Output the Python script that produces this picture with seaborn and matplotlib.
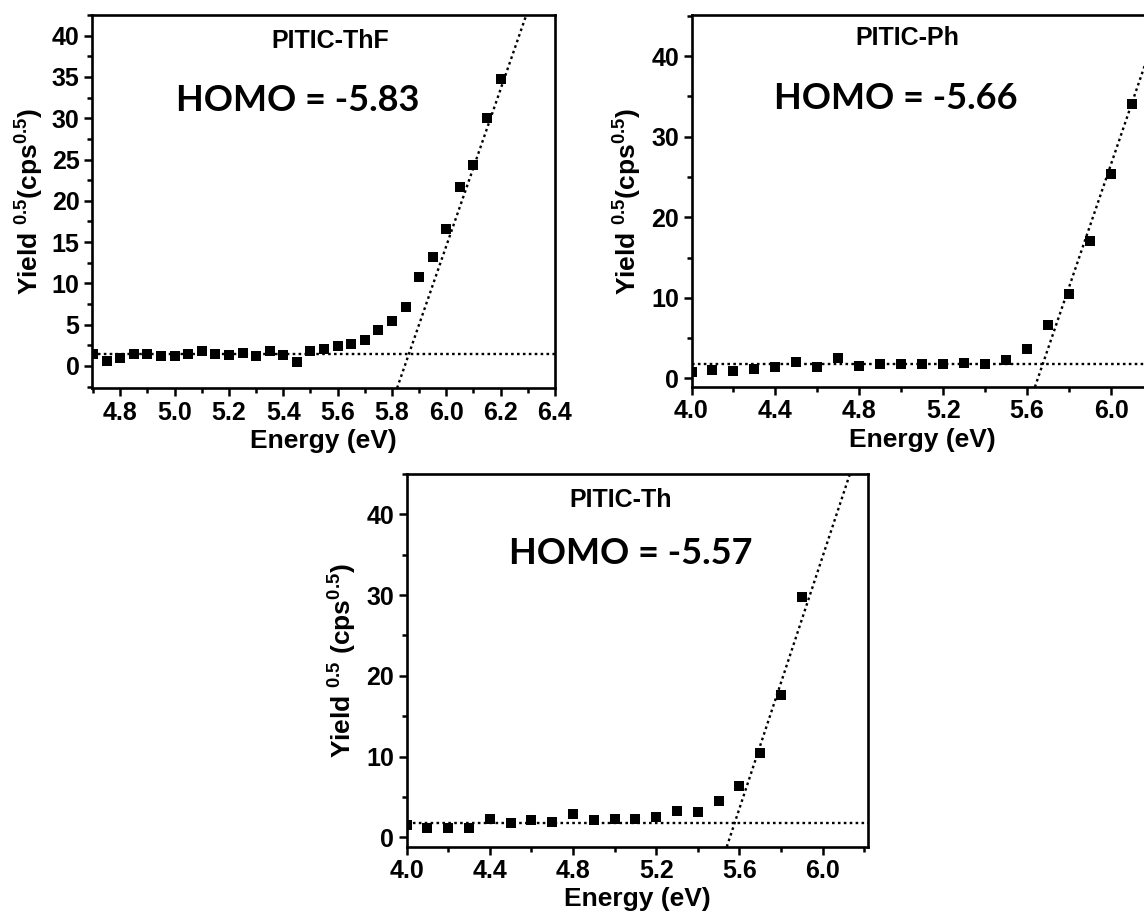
import numpy as np
import pandas as pd
import matplotlib
matplotlib.use("Agg")
import matplotlib.pyplot as plt
from matplotlib.ticker import MultipleLocator
import seaborn as sns

# ---------------- data ----------------
thf_energy = [4.70, 4.75, 4.80, 4.85, 4.90, 4.95, 5.00, 5.05, 5.10, 5.15, 5.20, 5.25,
              5.30, 5.35, 5.40, 5.45, 5.50, 5.55, 5.60, 5.65, 5.70, 5.75, 5.80, 5.85,
              5.90, 5.95, 6.00, 6.05, 6.10, 6.15, 6.20]
thf_yield = [1.5, 0.6, 1.0, 1.4, 1.4, 1.2, 1.2, 1.4, 1.8, 1.4, 1.3, 1.6,
             1.2, 1.8, 1.3, 0.5, 1.8, 2.0, 2.4, 2.7, 3.2, 4.3, 5.4, 7.1,
             10.8, 13.2, 16.6, 21.7, 24.3, 30.0, 34.8]
thf_baseline = 1.5
thf_onset, thf_slope = 5.847, 95.0

ph_energy = [4.0, 4.1, 4.2, 4.3, 4.4, 4.5, 4.6, 4.7, 4.8, 4.9, 5.0, 5.1,
             5.2, 5.3, 5.4, 5.5, 5.6, 5.7, 5.8, 5.9, 6.0, 6.1]
ph_yield = [0.8, 1.1, 0.9, 1.2, 1.45, 2.1, 1.45, 2.5, 1.6, 1.8, 1.75, 1.85,
            1.85, 1.95, 1.85, 2.35, 3.7, 6.6, 10.5, 17.1, 25.4, 34.0]
ph_baseline = 1.8
ph_onset, ph_slope = 5.651, 76.2

th_energy = [4.0, 4.1, 4.2, 4.3, 4.4, 4.5, 4.6, 4.7, 4.8, 4.9, 5.0, 5.1,
             5.2, 5.3, 5.4, 5.5, 5.6, 5.7, 5.8, 5.9]
th_yield = [1.5, 1.1, 1.2, 1.1, 2.3, 1.8, 2.15, 1.9, 2.85, 2.2, 2.3, 2.3,
            2.55, 3.25, 3.15, 4.55, 6.4, 10.4, 17.6, 29.8]
th_baseline = 1.8
th_onset, th_slope = 5.554, 78.0

names = ["PITIC-ThF", "PITIC-Ph", "PITIC-Th"]
homo_labels = ["HOMO = -5.83", "HOMO = -5.66", "HOMO = -5.57"]
ylabels = ["Yield $^{0.5}$(cps$^{0.5}$)", "Yield $^{0.5}$(cps$^{0.5}$)",
           "Yield $^{0.5}$ (cps$^{0.5}$)"]
xlabel = "Energy (eV)"

# ---------------- style ----------------
sns.set_theme(style="ticks")
plt.rcParams["font.family"] = ["Liberation Sans", "DejaVu Sans"]
plt.rcParams["font.weight"] = "bold"
plt.rcParams["text.color"] = "black"
plt.rcParams["axes.labelcolor"] = "black"
plt.rcParams["xtick.color"] = "black"
plt.rcParams["ytick.color"] = "black"
plt.rcParams["mathtext.fontset"] = "custom"
plt.rcParams["mathtext.rm"] = "Liberation Sans:bold"
plt.rcParams["mathtext.it"] = "Liberation Sans:bold"
plt.rcParams["mathtext.bf"] = "Liberation Sans:bold"

W, H = 1144, 917
fig = plt.figure(figsize=(W / 100, H / 100), dpi=100)

def frac(left, right, top, bottom):
    return [left / W, (H - bottom) / H, (right - left) / W, (bottom - top) / H]

panels = [
    dict(rect=frac(92, 555, 15, 388), x=thf_energy, y=thf_yield, base=thf_baseline,
         onset=thf_onset, slope=thf_slope, xlim=(4.696, 6.4), ylim=(-2.67, 42.5),
         xmin=0.1, ymin=2.5, xticks=np.arange(4.8, 6.41, 0.2),
         yticks=np.arange(0, 41, 5),
         title_xy=(5.574, 39.3), homo_xy=(5.454, 32.2), labelpad=4),
    dict(rect=frac(691.5, 1153, 15, 387), x=ph_energy, y=ph_yield, base=ph_baseline,
         onset=ph_onset, slope=ph_slope, xlim=(4.0, 6.2), ylim=(-1.06, 45.1),
         xmin=0.2, ymin=5, xticks=np.arange(4.0, 6.01, 0.4),
         yticks=np.arange(0, 41, 10),
         title_xy=(5.027, 42.2), homo_xy=(4.975, 34.8), labelpad=5),
    dict(rect=frac(406.7, 868, 474, 846.7), x=th_energy, y=th_yield, base=th_baseline,
         onset=th_onset, slope=th_slope, xlim=(4.0, 6.218), ylim=(-1.16, 45.0),
         xmin=0.2, ymin=5, xticks=np.arange(4.0, 6.01, 0.4),
         yticks=np.arange(0, 41, 10),
         title_xy=(5.03, 41.8), homo_xy=(5.078, 35.2), labelpad=5),
]

dots = (0, (1.1, 1.4))
for i, p in enumerate(panels):
    ax = fig.add_axes(p["rect"])
    df = pd.DataFrame({"E": p["x"], "Y": p["y"]})
    sns.scatterplot(data=df, x="E", y="Y", ax=ax, marker="s", s=52,
                    color="black", linewidth=0, zorder=3)
    ax.axhline(p["base"], color="black", linestyle=dots, linewidth=1.7, zorder=2)
    ax.axline((p["onset"], 0.0), slope=p["slope"], color="black",
              linestyle=dots, linewidth=1.7, zorder=2)
    ax.set_xlim(*p["xlim"])
    ax.set_ylim(*p["ylim"])
    ax.set_xticks(p["xticks"])
    ax.set_xticklabels([f"{v:.1f}" for v in p["xticks"]])
    ax.set_yticks(p["yticks"])
    ax.set_yticklabels([f"{int(v)}" for v in p["yticks"]])
    ax.xaxis.set_minor_locator(MultipleLocator(p["xmin"]))
    ax.yaxis.set_minor_locator(MultipleLocator(p["ymin"]))
    ax.tick_params(which="both", direction="out", top=False, right=False,
                   width=1.8, colors="black")
    ax.tick_params(which="major", length=6, labelsize=18, pad=3)
    ax.tick_params(which="minor", length=3.5)
    for lab in ax.get_xticklabels() + ax.get_yticklabels():
        lab.set_fontweight("bold")
    for sp in ax.spines.values():
        sp.set_linewidth(1.9)
        sp.set_color("black")
        sp.set_visible(True)
    ax.set_xlabel(xlabel, fontsize=19, fontweight="bold", labelpad=3, color="black")
    ax.set_ylabel(ylabels[i], fontsize=19, fontweight="bold", labelpad=p["labelpad"],
                  color="black")
    ax.text(*p["title_xy"], names[i], ha="center", va="center", fontsize=18,
            fontweight="bold", color="black", family=["Liberation Sans", "DejaVu Sans"])
    ax.text(*p["homo_xy"], homo_labels[i], ha="center", va="center", fontsize=26,
            fontweight="bold", color="black", family=["Lato", "DejaVu Sans"])
    ax.set_facecolor("white")

fig.savefig("out.png", dpi=100, facecolor="white")
